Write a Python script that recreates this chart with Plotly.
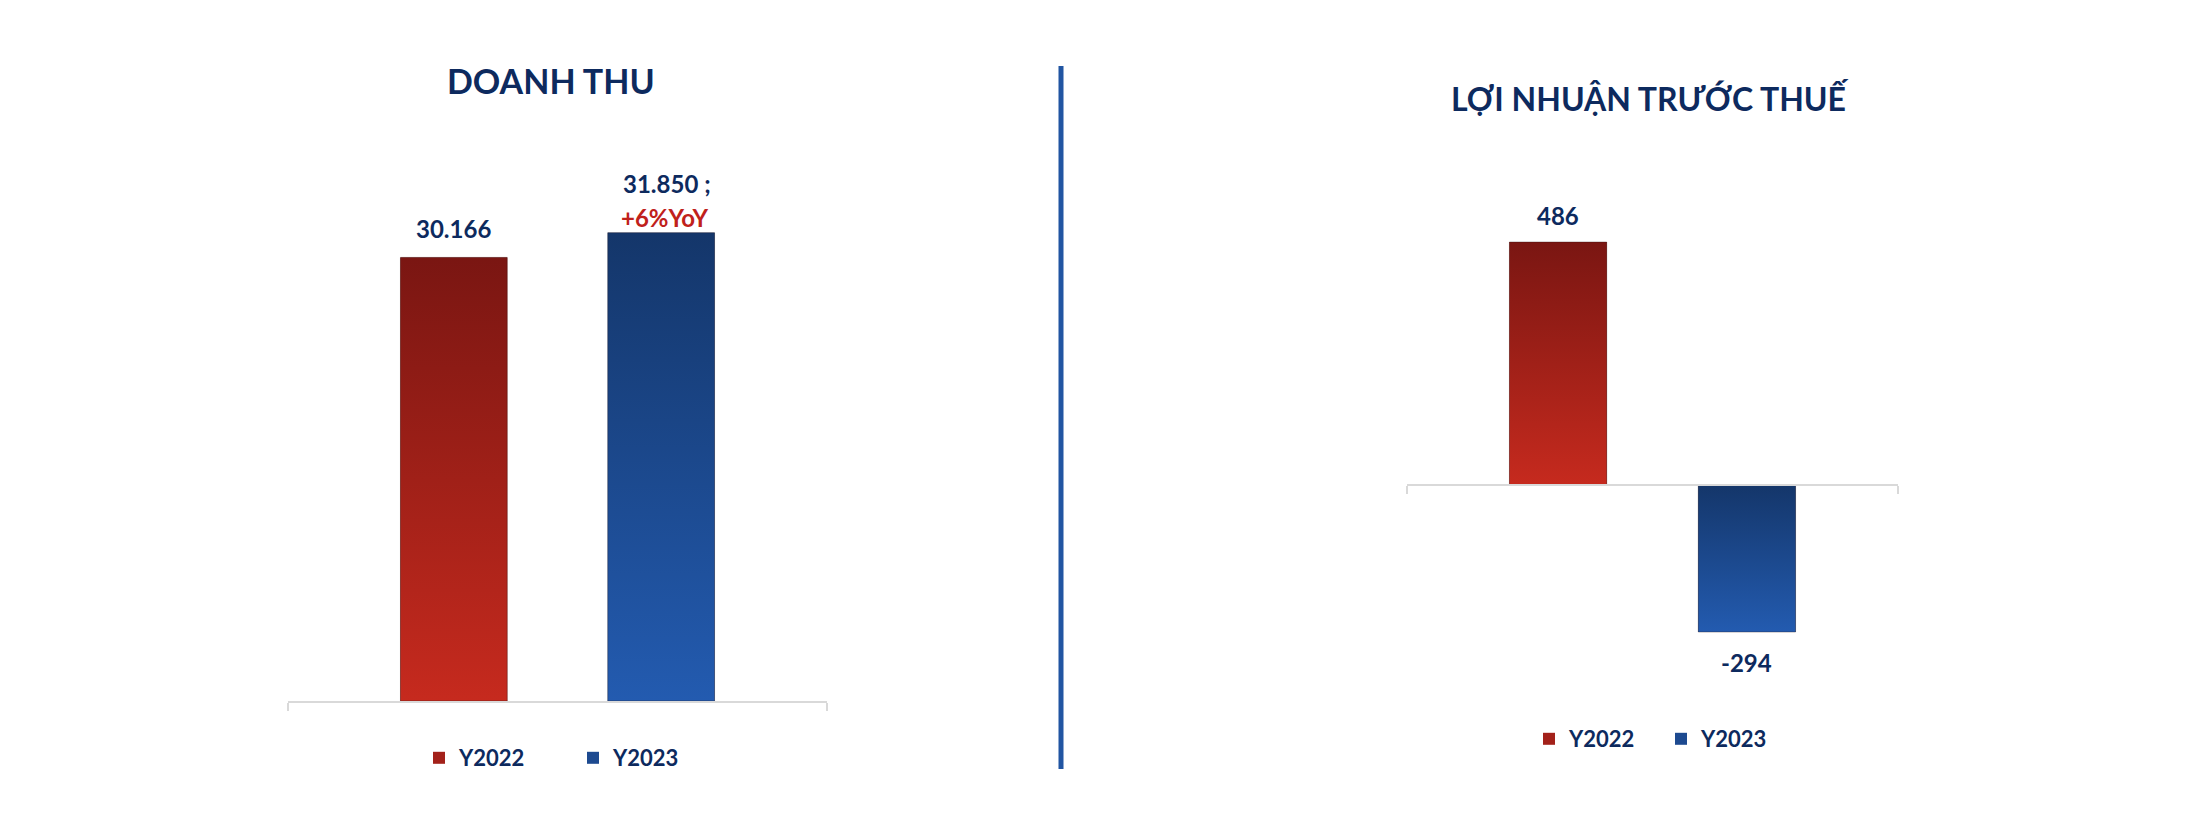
import plotly.graph_objects as go

# ---------------- data ----------------
categories = ["Y2022", "Y2023"]
revenue = [30166, 31850]          # DOANH THU
profit = [486, -294]              # LỢI NHUẬN TRƯỚC THUẾ
yoy_text = "+6%YoY"
titles = ["DOANH THU", "LỢI NHUẬN TRƯỚC THUẾ"]

# ---------------- style ----------------
NAVY = "#0d2a5e"
RED_TXT = "#c0211b"
FONT = "Lato"
grad = {
    "Y2022": ("#c62a1e", "#7a1612", "#a3211a"),   # bottom, top, legend
    "Y2023": ("#235bb0", "#14366a", "#1d4a90"),
}
W = 2200
H = 826
BAR_W = 0.515


def fmt(v):
    return f"{v:,}".replace(",", ".")


def px_x(p):
    return p / W


def px_y(p):
    return (H - p) / H


fig = go.Figure()

panels = [
    ("x", "y", revenue, "legend"),
    ("x2", "y2", profit, "legend2"),
]
for xa, ya, values, leg in panels:
    for i, (cat, v) in enumerate(zip(categories, values)):
        bottom, top, mid = grad[cat]
        fig.add_trace(go.Bar(
            x=[i], y=[v], width=BAR_W, name=cat,
            marker=dict(color=mid, line=dict(width=0)),
            xaxis=xa, yaxis=ya, legend=leg, showlegend=True,
            hovertemplate=f"{cat}: %{{y:,}}<extra></extra>",
        ))
        # gradient overlay built from the same value
        fig.add_trace(go.Scatter(
            x=[i - BAR_W / 2, i + BAR_W / 2, i + BAR_W / 2, i - BAR_W / 2, i - BAR_W / 2],
            y=[0, 0, v, v, 0],
            mode="lines", fill="toself",
            line=dict(width=1, color="rgba(40,20,20,0.35)"),
            fillgradient=dict(type="vertical", colorscale=[[0, bottom], [1, top]]),
            xaxis=xa, yaxis=ya, showlegend=False, hoverinfo="skip",
        ))

y_dom = [px_y(701), px_y(150)]
axis_common = dict(
    range=[-0.8, 1.8], showgrid=False, zeroline=False,
    showline=True, linecolor="#d9d9d9", linewidth=2,
    ticks="outside", tickvals=[-0.7995, 1.7995], ticklen=8,
    tickcolor="#d9d9d9", tickwidth=2, showticklabels=False, fixedrange=True,
)
leg_font = dict(family=FONT, size=22, color=NAVY, weight=700)
fig.update_layout(
    width=W, height=H,
    margin=dict(l=0, r=0, t=0, b=0),
    paper_bgcolor="white", plot_bgcolor="white",
    barmode="overlay",
    xaxis=dict(domain=[px_x(288), px_x(827)], anchor="y", **axis_common),
    yaxis=dict(domain=y_dom, range=[0, 37470], visible=False, fixedrange=True),
    xaxis2=dict(domain=[px_x(1407), px_x(1898)], anchor="free",
                position=px_y(485), **axis_common),
    yaxis2=dict(domain=y_dom, range=[-432, 670], visible=False, fixedrange=True),
    legend=dict(orientation="h", x=px_x(419), xanchor="left",
                y=px_y(758), yanchor="middle", entrywidth=109,
                font=leg_font, itemclick=False, itemdoubleclick=False),
    legend2=dict(orientation="h", x=px_x(1529), xanchor="left",
                 y=px_y(739), yanchor="middle", entrywidth=87,
                 font=leg_font, itemclick=False, itemdoubleclick=False),
    showlegend=True,
)

# titles
fig.add_annotation(text=titles[0], xref="paper", yref="paper",
                   x=px_x(551), y=px_y(80), xanchor="center", yanchor="middle",
                   showarrow=False,
                   font=dict(family=FONT, size=34, color=NAVY, weight=700))
fig.add_annotation(text=titles[1], xref="paper", yref="paper",
                   x=px_x(1650), y=px_y(98), xanchor="center", yanchor="middle",
                   showarrow=False,
                   font=dict(family=FONT, size=32, color=NAVY, weight=700))

# data labels
lab_font = dict(family=FONT, size=24, color=NAVY, weight=700)
fig.add_annotation(x=0, y=revenue[0], xref="x", yref="y", text=fmt(revenue[0]),
                   showarrow=False, yanchor="bottom", yshift=12, font=lab_font)
fig.add_annotation(x=1, y=revenue[1], xref="x", yref="y", text=f"{fmt(revenue[1])} ;",
                   showarrow=False, yanchor="bottom", yshift=33, xshift=6, font=lab_font)
fig.add_annotation(x=1, y=revenue[1], xref="x", yref="y", text=yoy_text,
                   showarrow=False, yanchor="bottom", yshift=-1, xshift=3,
                   font=dict(family=FONT, size=24, color=RED_TXT, weight=700))
fig.add_annotation(x=0, y=profit[0], xref="x2", yref="y2", text=fmt(profit[0]),
                   showarrow=False, yanchor="bottom", yshift=10, font=lab_font)
fig.add_annotation(x=1, y=profit[1], xref="x2", yref="y2", text=fmt(profit[1]),
                   showarrow=False, yanchor="top", yshift=-14, font=lab_font)

# divider
fig.add_shape(type="line", xref="paper", yref="paper",
              x0=px_x(1061), x1=px_x(1061), y0=px_y(769), y1=px_y(66),
              line=dict(color="#2155a2", width=5))

fig.write_html("out.html", config={"displayModeBar": False},
               post_script="document.body.style.margin='0';")
